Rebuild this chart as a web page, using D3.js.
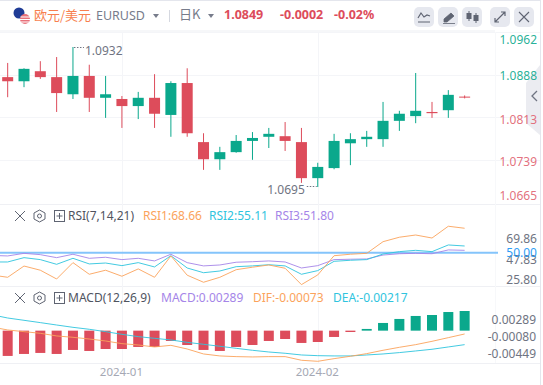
<!DOCTYPE html>
<html>
<head>
<meta charset="utf-8">
<script src="https://cdn.jsdelivr.net/npm/d3@7"></script>
<style>
html, body { margin: 0; padding: 0; background: #fff; }
svg { display: block; font-family: "Noto Sans", "Noto Sans CJK SC", sans-serif; }
</style>
</head>
<body>
<svg class="kline" width="543" height="385"></svg>
<script>
// first entry sits just off the left edge, lines run in from there
const opens = [1.0878, 1.0881, 1.0874, 1.0891, 1.0881, 1.0852, 1.0883, 1.0846, 1.0844, 1.0832, 1.0846, 1.0817, 1.0871, 1.0771, 1.0742, 1.0754, 1.0773, 1.0780, 1.0781, 1.0771, 1.0710, 1.0727, 1.0769, 1.0776, 1.0776, 1.0807, 1.0815, 1.0822, 1.0825, 1.0848];
const closes = [1.0870, 1.0874, 1.0895, 1.0881, 1.0854, 1.0883, 1.0846, 1.0852, 1.0832, 1.0846, 1.0819, 1.0871, 1.0786, 1.0742, 1.0754, 1.0773, 1.0778, 1.0785, 1.0773, 1.0710, 1.0729, 1.0773, 1.0776, 1.0780, 1.0807, 1.0819, 1.0824, 1.0820, 1.0851, 1.0847];
const highs = [1.0890, 1.0905, 1.0896, 1.0908, 1.0915, 1.0932, 1.0902, 1.0883, 1.0849, 1.0856, 1.0886, 1.0874, 1.0896, 1.0786, 1.0763, 1.0783, 1.0788, 1.0795, 1.0805, 1.0795, 1.0736, 1.0785, 1.0786, 1.0790, 1.0839, 1.0824, 1.0888, 1.0839, 1.0859, 1.0850];
const lows = [1.0850, 1.0847, 1.0864, 1.0878, 1.0822, 1.0844, 1.0822, 1.0812, 1.0795, 1.0810, 1.0795, 1.0780, 1.0780, 1.0724, 1.0724, 1.0753, 1.0741, 1.0761, 1.0756, 1.0702, 1.0695, 1.0725, 1.0732, 1.0763, 1.0763, 1.0790, 1.0803, 1.0812, 1.0812, 1.0845];

const rsi1 = [33.0, 31.2, 39.8, 36.6, 29.9, 42.4, 33.5, 36.6, 32.0, 37.6, 31.2, 47.5, 32.8, 27.4, 31.2, 37.0, 38.9, 40.6, 38.1, 25.6, 33.0, 47.7, 48.8, 49.5, 58.4, 61.8, 63.5, 61.2, 70.2, 68.66];
const rsi2 = [42.9, 42.9, 46.2, 44.7, 41.1, 45.7, 41.4, 42.1, 40.1, 42.4, 39.1, 47.7, 38.3, 34.7, 36.0, 39.3, 39.9, 40.8, 39.9, 33.5, 36.3, 43.4, 44.2, 44.7, 49.0, 50.8, 51.8, 50.8, 55.9, 55.11];
const rsi3 = [47.9, 47.5, 49.5, 48.5, 46.2, 48.8, 45.7, 46.5, 44.7, 45.7, 43.7, 48.8, 42.4, 39.9, 40.6, 42.7, 43.1, 43.7, 42.9, 38.3, 40.1, 44.7, 45.0, 45.2, 48.2, 49.2, 49.5, 49.2, 52.1, 51.80];

const macdBars = [-0.00390, -0.00372, -0.00343, -0.00328, -0.00343, -0.00284, -0.00299, -0.00270, -0.00270, -0.00240, -0.00240, -0.00152, -0.00211, -0.00284, -0.00299, -0.00240, -0.00211, -0.00152, -0.00123, -0.00181, -0.00167, -0.00093, -0.00020, 0.00025, 0.00113, 0.00172, 0.00216, 0.00230, 0.00274, 0.00289];
const dif = [0.00054, 0.00010, -0.00015, -0.00039, -0.00078, -0.00098, -0.00123, -0.00152, -0.00191, -0.00211, -0.00240, -0.00216, -0.00270, -0.00343, -0.00372, -0.00382, -0.00387, -0.00382, -0.00382, -0.00436, -0.00451, -0.00412, -0.00377, -0.00338, -0.00289, -0.00245, -0.00206, -0.00157, -0.00103, -0.00049];
const dea = [0.00235, 0.00186, 0.00152, 0.00118, 0.00083, 0.00049, 0.00020, -0.00015, -0.00054, -0.00088, -0.00113, -0.00137, -0.00172, -0.00201, -0.00230, -0.00260, -0.00289, -0.00314, -0.00333, -0.00358, -0.00368, -0.00372, -0.00372, -0.00358, -0.00343, -0.00323, -0.00299, -0.00274, -0.00240, -0.00206];

const gridPrices = [1.0957, 1.0885, 1.0814, 1.0741];
const priceLabels = ["1.0962", "1.0888", "1.0813", "1.0739", "1.0665"];
const rsiLabels = [69.86, 47.83, 25.80];
const macdLabels = [0.00289, -0.00080, -0.00449];
const monthTicks = [{ i: 8, label: "2024-01" }, { i: 20, label: "2024-02" }];

const RED = "#dd4c5b";
const GREEN = "#0aa88c";
const ORANGE = "#fba35c";
const CYAN = "#2fc4de";
const PURPLE = "#a585e8";
const GRID = "#f4f5f8";
const TEXT = "#6f7482";

const svg = d3.select("svg.kline");
const idx = d3.range(opens.length);

const x = d3.scaleBand()
    .domain(idx)
    .range([-16.8, 472.8])
    .paddingInner(0.33)
    .paddingOuter(0.165);
const xc = i => x(i) + x.bandwidth() / 2;

const yPrice = d3.scaleLinear().domain([1.0695, 1.0932]).range([187, 47]);
const yRsi = d3.scaleLinear().domain([25, 70]).range([285.4, 226.5]);
const yRsiAxis = d3.scaleLinear().domain(rsiLabels).range([238.5, 260, 279.5]);
const yMacd = d3.scaleLinear().domain([0.00289, -0.00451]).range([311, 361.3]);

// grid
const grid = svg.append("g").attr("class", "grid");
grid.selectAll(".h")
    .data(gridPrices)
    .enter().append("line")
    .attr("x1", 0).attr("x2", 540)
    .attr("y1", d => Math.round(yPrice(d)) + 0.5)
    .attr("y2", d => Math.round(yPrice(d)) + 0.5)
    .attr("stroke", GRID);
[204, 286, 363].forEach(yy => {
    grid.append("line").attr("x1", 0).attr("x2", 540)
        .attr("y1", yy + 0.5).attr("y2", yy + 0.5).attr("stroke", "#eff0f4");
});
grid.selectAll(".v")
    .data(monthTicks)
    .enter().append("line")
    .attr("x1", d => Math.round(xc(d.i)) + 0.5)
    .attr("x2", d => Math.round(xc(d.i)) + 0.5)
    .attr("y1", 32).attr("y2", 363)
    .attr("stroke", GRID);
svg.append("line").attr("x1", 495.5).attr("x2", 495.5).attr("y1", 32).attr("y2", 363).attr("stroke", "#f7f8fa");
svg.append("line").attr("x1", 540.5).attr("x2", 540.5).attr("y1", 0).attr("y2", 385).attr("stroke", "#e4e6ed");
svg.append("line").attr("x1", 0).attr("x2", 541).attr("y1", 0.5).attr("y2", 0.5).attr("stroke", "#e4e6ed");
svg.append("rect").attr("x", 0).attr("y", 30).attr("width", 495).attr("height", 2).attr("fill", "#f6f7f9");

// side tab goes under the price labels
svg.append("path")
    .attr("d", "M540,65 L526,83 L526,123 L540,135 Z")
    .attr("fill", "#ebecf1");
svg.append("path")
    .attr("d", "M537,91 L532,96 L537,101")
    .attr("fill", "none").attr("stroke", "#6f7482").attr("stroke-width", 1.3);

// candles
const candles = svg.append("g").attr("class", "candles");
const up = i => closes[i] >= opens[i];
candles.selectAll(".wick")
    .data(idx)
    .enter().append("line")
    .attr("x1", xc).attr("x2", xc)
    .attr("y1", i => yPrice(highs[i]))
    .attr("y2", i => yPrice(lows[i]))
    .attr("stroke", i => up(i) ? GREEN : RED)
    .attr("stroke-width", 1);
candles.selectAll(".body")
    .data(idx)
    .enter().append("rect")
    .attr("x", i => xc(i) - 5.5)
    .attr("y", i => yPrice(Math.max(opens[i], closes[i])))
    .attr("width", 11)
    .attr("height", i => Math.max(1, Math.abs(yPrice(opens[i]) - yPrice(closes[i]))))
    .attr("fill", i => up(i) ? GREEN : RED);

// high / low markers
const hi = d3.maxIndex(highs), lo = d3.minIndex(lows);
const dots = "1.5 1.5";
svg.append("line").attr("x1", xc(hi) + 1).attr("x2", xc(hi) + 11)
    .attr("y1", yPrice(highs[hi]) + 0.5).attr("y2", yPrice(highs[hi]) + 0.5)
    .attr("stroke", TEXT).attr("stroke-dasharray", dots);
svg.append("text").attr("x", xc(hi) + 12).attr("y", yPrice(highs[hi]) + 8)
    .attr("font-size", 12).attr("fill", TEXT).text(d3.format(".4f")(highs[hi]));
svg.append("line").attr("x1", xc(lo) - 11).attr("x2", xc(lo) - 1)
    .attr("y1", yPrice(lows[lo]) - 0.5).attr("y2", yPrice(lows[lo]) - 0.5)
    .attr("stroke", TEXT).attr("stroke-dasharray", dots);
svg.append("text").attr("x", xc(lo) - 13).attr("y", yPrice(lows[lo]) + 7)
    .attr("text-anchor", "end")
    .attr("font-size", 12).attr("fill", TEXT).text(d3.format(".4f")(lows[lo]));

// price axis labels, first and last are pushed inside the pane
const priceY = [44, 80, 124, 166, 200];
svg.selectAll(".plabel")
    .data(priceLabels)
    .enter().append("text")
    .attr("x", 537).attr("y", (d, i) => priceY[i])
    .attr("text-anchor", "end")
    .attr("font-size", 12)
    .attr("fill", (d, i) => i < 2 ? GREEN : "#e0606e")
    .attr("fill-opacity", 0.9)
    .text(d => d);

// rsi pane
const rsiLine = d3.line().x((d, i) => xc(i)).y(d => yRsi(d));
svg.append("line")
    .attr("x1", 0).attr("x2", 498)
    .attr("y1", yRsi(50)).attr("y2", yRsi(50))
    .attr("stroke", "#84c4fb").attr("stroke-width", 2);
[[rsi3, PURPLE], [rsi2, CYAN], [rsi1, ORANGE]].forEach(([vals, col]) => {
    svg.append("path").datum(vals)
        .attr("d", rsiLine)
        .attr("fill", "none").attr("stroke", col).attr("stroke-width", 1)
        .attr("stroke-opacity", 0.9);
});
svg.selectAll(".rlabel")
    .data(rsiLabels)
    .enter().append("text")
    .attr("x", 537).attr("y", d => yRsiAxis(d) + 4)
    .attr("text-anchor", "end")
    .attr("font-size", 12).attr("fill", TEXT)
    .text(d => d.toFixed(2));
svg.append("text").attr("x", 537).attr("y", yRsi(50) + 4)
    .attr("text-anchor", "end")
    .attr("font-size", 12).attr("fill", "#2d9df5").text("50.00");

// macd pane
svg.selectAll(".mbar")
    .data(idx)
    .enter().append("rect")
    .attr("x", i => xc(i) - 5)
    .attr("y", i => yMacd(Math.max(0, macdBars[i])))
    .attr("width", 10)
    .attr("height", i => Math.max(1, Math.abs(yMacd(macdBars[i]) - yMacd(0))))
    .attr("fill", i => macdBars[i] >= 0 ? GREEN : RED);
const macdLine = d3.line().x((d, i) => xc(i)).y(d => yMacd(d));
[[dea, CYAN], [dif, ORANGE]].forEach(([vals, col]) => {
    svg.append("path").datum(vals)
        .attr("d", macdLine)
        .attr("fill", "none").attr("stroke", col).attr("stroke-width", 1)
        .attr("stroke-opacity", 0.9);
});
svg.selectAll(".mlabel")
    .data(macdLabels)
    .enter().append("text")
    .attr("x", 536).attr("y", (d, i) => 324 + i * 17)
    .attr("text-anchor", "end")
    .attr("font-size", 12).attr("fill", TEXT)
    .text(d => d.toFixed(5));

// month labels
svg.selectAll(".month")
    .data(monthTicks)
    .enter().append("text")
    .attr("x", d => xc(d.i) - 0.5).attr("y", 376)
    .attr("text-anchor", "middle")
    .attr("font-size", 11.5).attr("fill", "#a5a8b4")
    .text(d => d.label);

// header
const head = svg.append("g").attr("class", "head");
head.append("circle").attr("cx", 19).attr("cy", 13).attr("r", 5.5).attr("fill", "#1f3c96");
head.append("circle").attr("cx", 25).attr("cy", 19).attr("r", 5).attr("fill", "#e8717a");
head.append("path").attr("d", "M20.5,17 H30 M20,19.5 H30 M21,22 H29").attr("stroke", "#fff").attr("stroke-width", 1);
head.append("text").attr("x", 34).attr("y", 20).attr("font-size", 13)
    .attr("font-family", "'Noto Sans CJK SC'").attr("fill", "#f77f4f").text("欧元/美元");
head.append("text").attr("x", 96).attr("y", 20).attr("font-size", 12.5)
    .attr("fill", "#777c8b").text("EURUSD");
head.append("path").attr("d", "M153,14 H159 L156,18 Z").attr("fill", "#777c8b");
head.append("line").attr("x1", 169.5).attr("x2", 169.5).attr("y1", 10).attr("y2", 22).attr("stroke", "#d5d8e0");
head.append("text").attr("x", 179).attr("y", 19).attr("font-size", 13)
    .attr("font-family", "'Noto Sans CJK SC'").attr("fill", "#777c8b").text("日K");
head.append("path").attr("d", "M208,14 H214 L211,18 Z").attr("fill", "#777c8b");
[["1.0849", 224], ["-0.0002", 280], ["-0.02%", 334]].forEach(([t, px]) => {
    head.append("text").attr("x", px).attr("y", 19).attr("font-size", 12.5)
        .attr("font-weight", 700).attr("fill", RED).text(t);
});

// toolbar buttons
const buttons = [414, 438, 462, 490, 514];
head.selectAll(".btn")
    .data(buttons)
    .enter().append("rect")
    .attr("x", d => d).attr("y", 7)
    .attr("width", 20).attr("height", 20).attr("rx", 5)
    .attr("fill", "#e6e8ef");
const icon = "#5f6472";
head.append("path").attr("d", "M418,18 L421,13 L424,17 L427,15 L430,16 M418,22 H430")
    .attr("fill", "none").attr("stroke", icon).attr("stroke-width", 1.2);
head.append("path").attr("d", "M444,19 L451,13 L454,16 L447,22 H444 Z M443,23.5 H455")
    .attr("fill", icon).attr("stroke", icon).attr("stroke-width", 0.8);
head.append("path").attr("d", "M469,11 V21 M476,13 V23")
    .attr("stroke", icon);
head.append("rect").attr("x", 466.5).attr("y", 13).attr("width", 5).attr("height", 6).attr("fill", icon);
head.append("rect").attr("x", 473.5).attr("y", 15).attr("width", 5).attr("height", 6).attr("fill", icon);
head.append("path").attr("d", "M495,22 L505,12 M501,12 H505 V16 M495,18 V22 H499")
    .attr("fill", "none").attr("stroke", icon).attr("stroke-width", 1.2);
head.append("path").attr("d", "M519,12 L529,22 M529,12 L519,22")
    .attr("fill", "none").attr("stroke", icon).attr("stroke-width", 1.1);

// pane titles
function paneHead(yy, title, titleX) {
    const c = icon;
    svg.append("path").attr("d", `M15,${yy - 5} L25,${yy + 5} M25,${yy - 5} L15,${yy + 5}`)
        .attr("stroke", c).attr("stroke-width", 1);
    svg.append("path")
        .attr("d", `M39.5,${yy - 6} L45,${yy - 3} V${yy + 3} L39.5,${yy + 6} L34,${yy + 3} V${yy - 3} Z`)
        .attr("fill", "none").attr("stroke", c);
    svg.append("circle").attr("cx", 39.5).attr("cy", yy).attr("r", 2).attr("fill", "none").attr("stroke", c);
    svg.append("rect").attr("x", 54.5).attr("y", yy - 5.5).attr("width", 10).attr("height", 11)
        .attr("fill", "none").attr("stroke", c);
    svg.append("path").attr("d", `M56.5,${yy} H62.5 M59.5,${yy - 3} V${yy + 3}`).attr("stroke", c);
    svg.append("text").attr("x", titleX).attr("y", yy + 4).attr("font-size", 12).attr("fill", "#50545f").text(title);
}
paneHead(216, "RSI(7,14,21)", 68);
paneHead(298, "MACD(12,26,9)", 68);

const legend = (px, py, txt, col) => svg.append("text")
    .attr("x", px).attr("y", py).attr("font-size", 12).attr("fill", col).text(txt);
legend(143, 220, "RSI1:" + rsi1[29].toFixed(2), ORANGE);
legend(209, 220, "RSI2:" + rsi2[29].toFixed(2), CYAN);
legend(275, 220, "RSI3:" + rsi3[29].toFixed(2), PURPLE);
legend(161, 302, "MACD:0.00289", PURPLE);
legend(253, 302, "DIF:-0.00073", ORANGE);
legend(333, 302, "DEA:-0.00217", CYAN);
</script>
</body>
</html>
